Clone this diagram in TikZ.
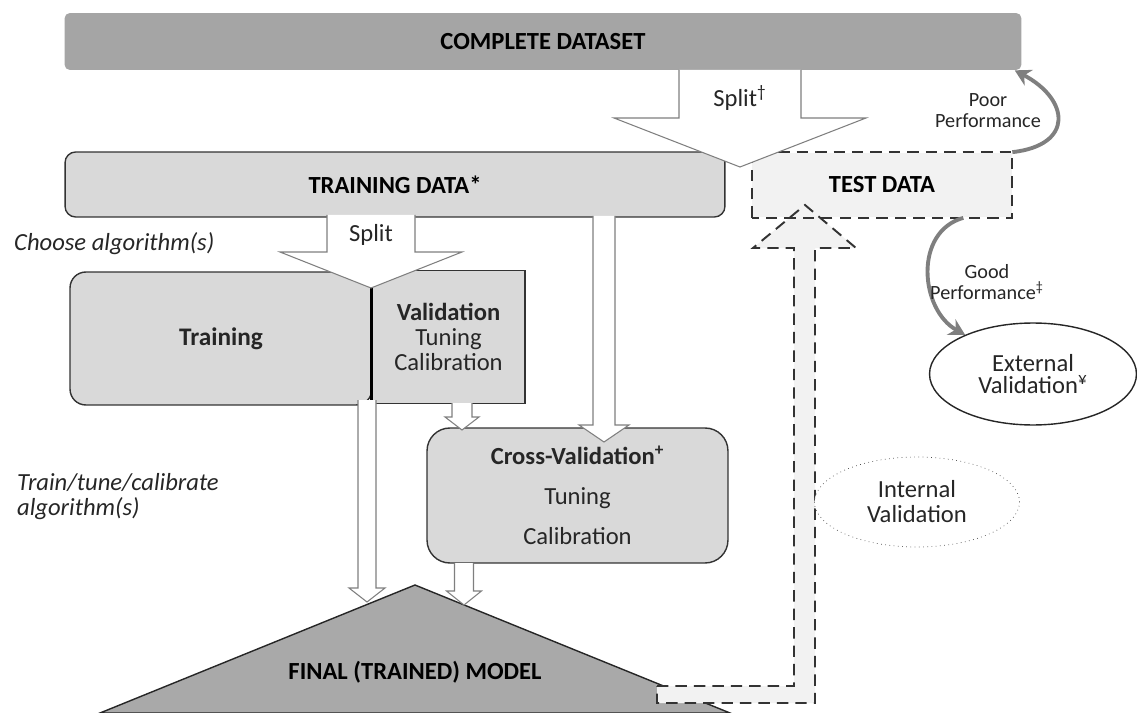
\documentclass[tikz,border=0pt]{standalone}
\usepackage{fontspec}
\setmainfont{Carlito}
\usetikzlibrary{arrows.meta,shapes.geometric,positioning}

\definecolor{dsgray}{HTML}{A5A5A5}
\definecolor{boxgray}{HTML}{D9D9D9}
\definecolor{testgray}{HTML}{F2F2F2}
\definecolor{modelgray}{HTML}{A9A9A9}
\definecolor{edgegray}{HTML}{7F7F7F}
\definecolor{txtgray}{HTML}{262626}

% hollow block arrow pointing down: x, top, head base, tip, shaft half, head half, style
\newcommand{\blockdown}[7]{%
  \draw[#7] ({#1-#5},#2) -- ({#1-#5},#3) -- ({#1-#6},#3) -- (#1,#4)
    -- ({#1+#6},#3) -- ({#1+#5},#3) -- ({#1+#5},#2);}

\begin{document}
\begin{tikzpicture}[x=0.02cm,y=-0.02cm,
  hdr/.style={font=\fontsize{14}{16}\selectfont\bfseries},
  lbl/.style={font=\fontsize{14}{14.2}\selectfont, text=txtgray, align=center},
  note/.style={font=\fontsize{14}{14.2}\selectfont\itshape, text=txtgray, align=left, anchor=west},
  small/.style={font=\fontsize{11.5}{12}\selectfont, text=txtgray, align=center},
  boxed/.style={draw=black!80, fill=boxgray, line width=0.8pt},
  hollow/.style={draw=edgegray, fill=white, line width=0.6pt},
  curved/.style={draw=edgegray, line width=2.2pt, -{Stealth[length=9pt,width=10pt]}},
  dashbox/.style={draw=black!80, line width=1.1pt, dash pattern=on 6.5pt off 4pt}]
\useasboundingbox (0,0) rectangle (1137,713);

    % Data sets
    \node[fill=dsgray, rounded corners=3pt, minimum width=19.14cm, minimum height=1.14cm, hdr] (dataset) at (543,41.5) {COMPLETE DATASET};
    \node[boxed, rounded corners=6pt, minimum width=13.2cm, minimum height=1.3cm, hdr] (traindata) at (395,184.5) {TRAINING DATA*};
    \node[fill=testgray, minimum width=5.2cm, minimum height=1.3cm, hdr] (test) at (882,185) {TEST DATA};
    %
    % Model building
    \node[boxed, rounded corners=9pt, minimum width=6.04cm, minimum height=2.66cm, lbl, font=\fontsize{14.4}{16}\selectfont\bfseries] (training) at (221,338.5) {Training};
    \node[boxed, minimum width=3.06cm, minimum height=2.66cm, lbl] (valid) at (448.5,337) {\textbf{Validation}\\Tuning\\Calibration};
    \draw[line width=1.4pt] (valid.north west) -- (valid.south west);
    \node[boxed, rounded corners=13pt, minimum width=6.02cm, minimum height=2.7cm, lbl, font=\fontsize{14}{22.7}\selectfont] (cv) at (577.5,495.5) {\textbf{Cross-Validation\textsuperscript{+}}\\Tuning\\Calibration};
    \draw[fill=modelgray, draw=black!85, line width=0.8pt] (100,713) -- (415,585) coordinate (apex) -- (730,713) -- cycle;
    \node[hdr] (final) at (415,672) {FINAL (TRAINED) MODEL};
    %
    % Test data back to the model
    \draw[dashbox, fill=testgray] (657,686) -- (794,686) -- (794,248) -- (753,248) -- (805,205) coordinate (backtip)
      -- (856,248) -- (815,248) -- (815,703) -- (657,703) -- cycle;
    \draw[dashbox] (test.south west) rectangle (test.north east);
    \node[ellipse, draw=black!70, dotted, fill=white, minimum width=4.1cm, minimum height=1.8cm, lbl] (int) at (917,502) {Internal\\Validation};
    %
    % Block arrows
    \blockdown{740}{70}{118}{167}{61}{126}{hollow}
    \node[lbl] (split1) at (740,98) {Split\textsuperscript{†}};
    \blockdown{371}{215}{252}{288}{44}{91}{hollow}
    \node[lbl] (split2) at (371,235) {Split};
    \blockdown{604}{216}{425}{442}{11}{25}{hollow}
    \blockdown{462}{403}{417}{430}{10}{17}{hollow}
    \blockdown{367}{400}{588}{602}{9}{18}{hollow}
    \blockdown{464}{563}{591}{605}{9.5}{17.5}{hollow}
    %
    % Performance
    \node[ellipse, draw=black!85, line width=0.8pt, fill=white, minimum width=4.14cm, minimum height=2.04cm, lbl, font=\fontsize{14}{13}\selectfont] (ext) at (1033,374) {External\\Validation\textsuperscript{¥}};
    \draw[curved] (test.north east) .. controls +(62,-7) and +(55,29) .. ([xshift=-4pt]dataset.south east);
    \draw[curved] ([xshift=-0.98cm]test.south east) .. controls +(-50,14) and +(-45,-25) .. (ext.150);
    \node[small] (poor) at (988,111) {Poor\\Performance};
    \node[small] (good) at (987,282) {Good\\Performance\textsuperscript{‡}};
    %
    % Side notes
    \node[note] (choose) at (8,244) {Choose algorithm(s)};
    \node[note] (tune) at (11,497) {Train/tune/calibrate\\algorithm(s)};
\end{tikzpicture}
\end{document}
